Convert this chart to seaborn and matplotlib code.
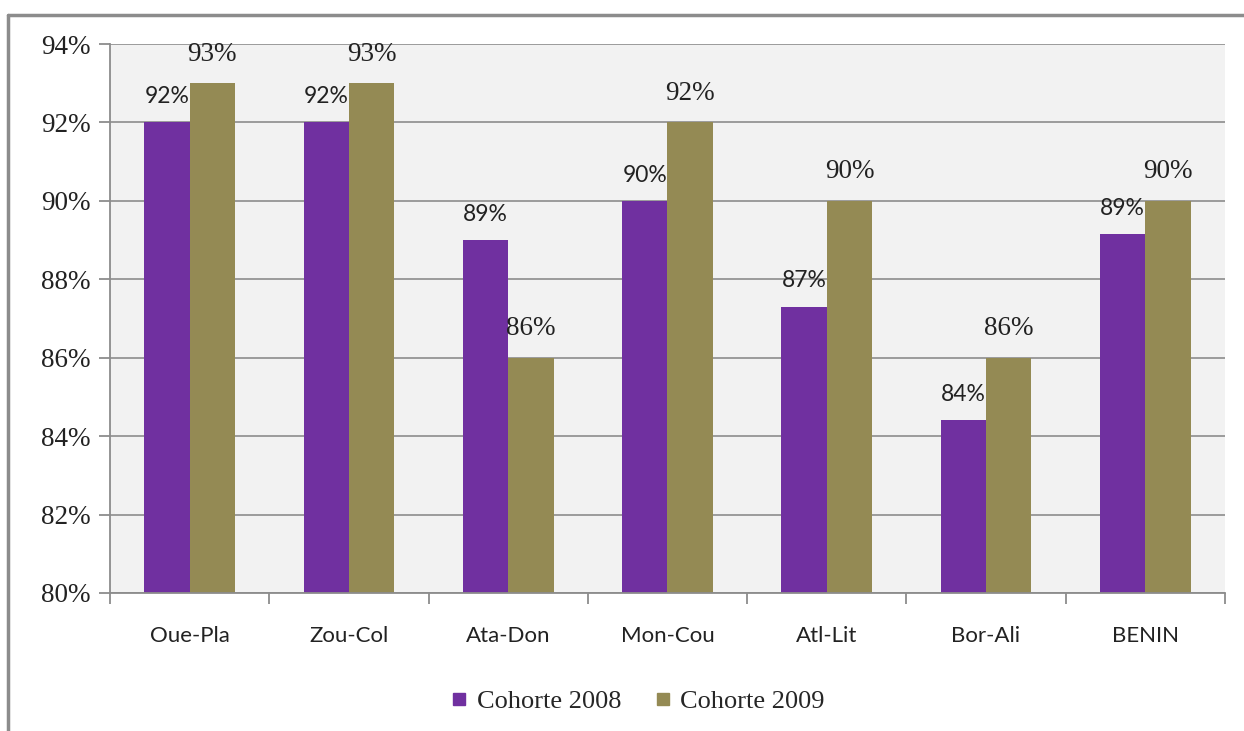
import pandas as pd
import seaborn as sns
import matplotlib.pyplot as plt
from matplotlib.lines import Line2D
from matplotlib.ticker import FuncFormatter, FixedLocator

# data (percent)
regions = ["Oue-Pla", "Zou-Col", "Ata-Don", "Mon-Cou", "Atl-Lit", "Bor-Ali", "BENIN"]
cohorte_2008 = [92, 92, 89, 90, 87.3, 84.4, 89.15]
cohorte_2009 = [93, 93, 86, 92, 90, 86, 90]
series = ["Cohorte 2008", "Cohorte 2009"]
colors = ["#7030A0", "#948A54"]

df = pd.DataFrame({
    "region": regions * 2,
    "cohorte": [series[0]] * len(regions) + [series[1]] * len(regions),
    "taux": cohorte_2008 + cohorte_2009,
})

sns.set_style("white")
serif = ["Liberation Serif", "DejaVu Serif"]
sans = ["Lato", "DejaVu Sans"]

fig = plt.figure(figsize=(12.44, 7.31), dpi=100)
ax = fig.add_axes([0.0884, 0.1888, 0.8963, 0.7510])

sns.barplot(data=df, x="region", y="taux", hue="cohorte", order=regions,
            hue_order=series, palette=colors, width=0.57, gap=0,
            saturation=1, edgecolor="none", ax=ax, legend=False)

ax.set_facecolor("#F2F2F2")
ax.set_ylim(80, 94)
ax.set_xlim(-0.5, len(regions) - 0.5)
ax.set_yticks(range(80, 95, 2))
ax.yaxis.set_major_formatter(FuncFormatter(lambda v, p: f"{v:.0f}%"))
ax.grid(axis="y", color="#8C8C8C", linewidth=1.2)
ax.set_axisbelow(True)
ax.set_xlabel("")
ax.set_ylabel("")

ax.tick_params(axis="y", which="major", length=8, width=1.3, color="#8C8C8C",
               left=True, pad=6, labelsize=19.5, labelfontfamily=serif,
               labelcolor="#222222")
ax.tick_params(axis="x", which="major", length=0, pad=24, labelsize=16,
               labelfontfamily=sans, labelcolor="#222222")
ax.xaxis.set_minor_locator(FixedLocator([i - 0.5 for i in range(len(regions) + 1)]))
ax.tick_params(axis="x", which="minor", length=8, width=1.3, color="#8C8C8C",
               bottom=True)

for side in ["top", "right"]:
    ax.spines[side].set_visible(False)
for side in ["left", "bottom"]:
    ax.spines[side].set_color("#8C8C8C")
    ax.spines[side].set_linewidth(1.3)

# data labels: 2008 in sans, 2009 in serif (as in the original)
label_style = [(sans, 16.5, 11), (serif, 19.5, 12)]
for cont, (fam, size, pad) in zip(ax.containers, label_style):
    labels = [f"{b.get_height():.0f}%" for b in cont]
    ax.bar_label(cont, labels=labels, padding=pad, fontsize=size, family=fam,
                 color="#222222")

# legend
handles = [Line2D([], [], marker="s", linestyle="none", markersize=9,
                  markerfacecolor=c, markeredgecolor=c) for c in colors]
fig.legend(handles, series, loc="center", bbox_to_anchor=(0.513, 0.041),
           ncol=2, frameon=False, prop={"family": serif, "size": 19},
           handlelength=0.6, handletextpad=0.35, columnspacing=1.3)

# outer chart frame
frame_kw = dict(color="#8C8C8C", linewidth=2.5, transform=fig.transFigure)
fig.add_artist(Line2D([8 / 1244, 1.0], [1 - 15 / 731, 1 - 15 / 731], **frame_kw))
fig.add_artist(Line2D([8 / 1244, 8 / 1244], [0.0, 1 - 15 / 731], **frame_kw))

fig.savefig("out.png", dpi=100, facecolor="white")
